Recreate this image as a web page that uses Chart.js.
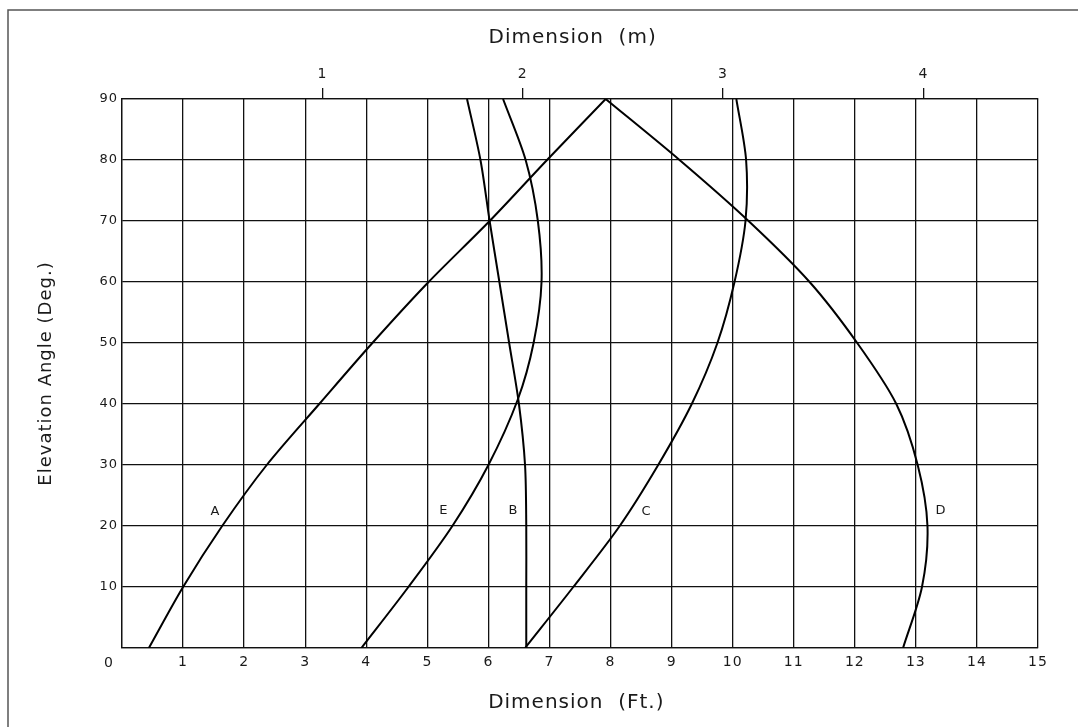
<!DOCTYPE html>
<html>
<head>
<meta charset="utf-8">
<title>Elevation angle vs dimension</title>
<script src="https://cdn.jsdelivr.net/npm/chart.js@4.4.1/dist/chart.umd.min.js"></script>
<style>
  html, body { margin: 0; padding: 0; background: #fff; }
  canvas { display: block; }
</style>
</head>
<body>
<canvas id="myChart" width="1078" height="727"></canvas>
<script>
// curve values: x = dimension (ft), y = elevation angle (deg)
var curveA_x = [0.44, 1.0, 1.64, 2.37, 3.23, 4.1, 5.02, 6.02, 6.96, 7.92];
var curveA_y = [0, 10, 20, 30, 40, 50, 60, 70, 80, 90];

var curveB_x = [6.62, 6.62, 6.62, 6.6, 6.5, 6.34, 6.18, 6.02, 5.87, 5.65];
var curveB_y = [0, 10, 20, 30, 40, 50, 60, 70, 80, 90];

var curveC_x = [6.6, 7.39, 8.15, 8.78, 9.33, 9.75, 10.03, 10.21, 10.22, 10.06];
var curveC_y = [0, 10, 20, 30, 40, 50, 60, 70, 80, 90];

var curveD_x = [7.92, 9.13, 10.26, 11.26, 12.04, 12.68, 13.03, 13.19, 13.1, 12.79];
var curveD_y = [90, 80, 70, 60, 50, 40, 30, 20, 10, 0];

var curveE_x = [3.92, 4.69, 5.41, 6.0, 6.48, 6.74, 6.87, 6.81, 6.61, 6.24];
var curveE_y = [0, 10, 20, 30, 40.7, 50, 60, 70, 80, 90];

// curve names and where they are written (data units)
var seriesNames = ['A', 'B', 'C', 'D', 'E'];
var nameX = [1.53, 6.41, 8.59, 13.41, 5.27];
var nameY = [22.4, 22.6, 22.4, 22.5, 22.6];

// tick labels
var feetTicks = [0, 1, 2, 3, 4, 5, 6, 7, 8, 9, 10, 11, 12, 13, 14, 15];
var meterTicks = [1, 2, 3, 4];
var angleTicks = [0, 10, 20, 30, 40, 50, 60, 70, 80, 90];
var FT_PER_M = 3.28084;

function toPoints(xs, ys) {
    var pts = [];
    for (var i = 0; i < xs.length; i++) {
        pts.push({ x: xs[i], y: ys[i] });
    }
    return pts;
}

function curve(xs, ys) {
    return {
        data: toPoints(xs, ys),
        borderColor: '#000',
        borderWidth: 2,
        pointRadius: 0,
        tension: 0.3,
        fill: false
    };
}

var FONT = '"DejaVu Sans", sans-serif';
var INK = '#1a1a1a';

// frame, letter spacing, curve names and the corner zero
var decorations = {
    id: 'decorations',
    beforeDraw: function (chart) {
        var ctx = chart.ctx;
        ctx.save();
        ctx.fillStyle = '#fff';
        ctx.fillRect(0, 0, chart.width, chart.height);
        ctx.strokeStyle = '#555';
        ctx.lineWidth = 1.5;
        ctx.beginPath();
        ctx.moveTo(8, chart.height);
        ctx.lineTo(8, 10);
        ctx.lineTo(chart.width, 10);
        ctx.stroke();
        ctx.restore();
        ctx.letterSpacing = '1px';
    },
    afterDraw: function (chart) {
        var ctx = chart.ctx;
        var xs = chart.scales.x;
        var ys = chart.scales.y;
        ctx.save();
        ctx.fillStyle = INK;
        ctx.font = '13px ' + FONT;
        ctx.textAlign = 'center';
        ctx.textBaseline = 'middle';
        for (var i = 0; i < seriesNames.length; i++) {
            ctx.fillText(seriesNames[i], xs.getPixelForValue(nameX[i]), ys.getPixelForValue(nameY[i]));
        }
        ctx.font = '14px ' + FONT;
        ctx.fillText('0', xs.getPixelForValue(0) - 13, ys.getPixelForValue(0) + 15);
        ctx.restore();
    }
};

var config = {
    type: 'line',
    data: {
        datasets: [
            curve(curveA_x, curveA_y),
            curve(curveB_x, curveB_y),
            curve(curveC_x, curveC_y),
            curve(curveD_x, curveD_y),
            curve(curveE_x, curveE_y)
        ]
    },
    options: {
        responsive: false,
        animation: false,
        events: [],
        layout: { padding: { right: 40 } },
        plugins: {
            legend: { display: false },
            tooltip: { enabled: false }
        },
        scales: {
            x: {
                type: 'linear',
                position: 'bottom',
                min: 0,
                max: 15,
                afterBuildTicks: function (scale) {
                    scale.ticks = feetTicks.map(function (v) { return { value: v }; });
                },
                afterFit: function (scale) { scale.height = 79; },
                ticks: {
                    padding: 6,
                    color: INK,
                    font: { family: FONT, size: 14 },
                    maxRotation: 0,
                    autoSkip: false,
                    callback: function (v) { return v === 0 ? '' : v; }
                },
                grid: { color: '#111', lineWidth: 1.3, drawTicks: false },
                border: { color: '#111', width: 1.3 },
                title: {
                    display: true,
                    text: 'Dimension  (Ft.) ',
                    color: INK,
                    font: { family: FONT, size: 20 },
                    padding: { top: 0, bottom: 12 }
                }
            },
            x2: {
                type: 'linear',
                position: 'top',
                min: 0,
                max: 15 / FT_PER_M,
                afterBuildTicks: function (scale) {
                    scale.ticks = meterTicks.map(function (v) { return { value: v }; });
                },
                afterFit: function (scale) { scale.height = 99; },
                ticks: {
                    padding: 5,
                    color: INK,
                    font: { family: FONT, size: 14 },
                    maxRotation: 0,
                    autoSkip: false
                },
                grid: { drawOnChartArea: false, drawTicks: true, tickLength: 11, color: '#111', lineWidth: 1.3 },
                border: { color: '#111', width: 1.3 },
                title: {
                    display: true,
                    text: 'Dimension  (m)  ',
                    color: INK,
                    font: { family: FONT, size: 20 },
                    padding: { top: 26, bottom: 0 }
                }
            },
            y: {
                type: 'linear',
                min: 0,
                max: 90,
                afterBuildTicks: function (scale) {
                    scale.ticks = angleTicks.map(function (v) { return { value: v }; });
                },
                afterFit: function (scale) { scale.width = 122; },
                ticks: {
                    padding: 4,
                    color: INK,
                    font: { family: FONT, size: 13 },
                    autoSkip: false,
                    callback: function (v) { return v === 0 ? '' : v; }
                },
                grid: { color: '#111', lineWidth: 1.3, drawTicks: false },
                border: { color: '#111', width: 1.3 },
                title: {
                    display: true,
                    text: 'Elevation Angle (Deg.)',
                    color: INK,
                    font: { family: FONT, size: 18 },
                    padding: { top: 36, bottom: 0 }
                }
            }
        }
    },
    plugins: [decorations]
};

var myChart = new Chart(document.getElementById('myChart'), config);
</script>
</body>
</html>
